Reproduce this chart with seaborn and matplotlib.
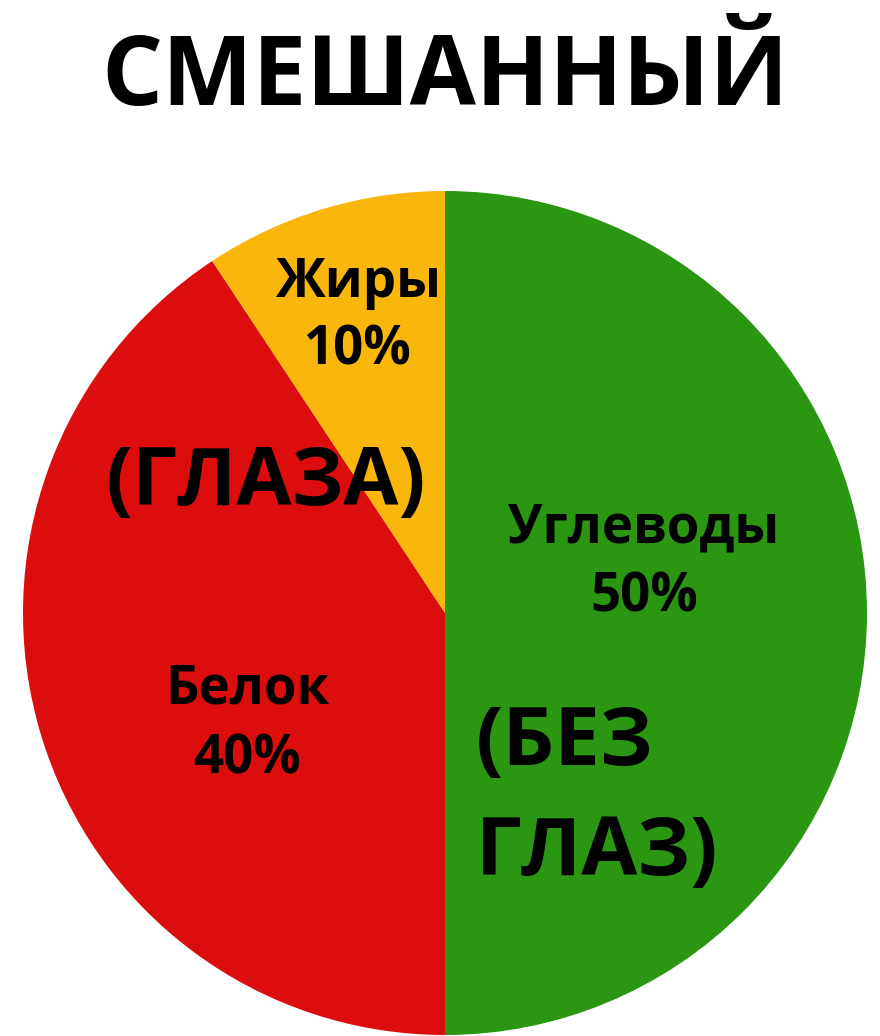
import matplotlib
matplotlib.use("Agg")
from matplotlib import pyplot as plt
import seaborn as sns

# Данные (размеры секторов, подписи — как на ней)
nutrients = ["Углеводы", "Белок", "Жиры"]
shares = [50, 40.7, 9.3]
pct_labels = ["50%", "40%", "10%"]
colors = ["#2b9612", "#db0d0d", "#f9b60b"]
title = "СМЕШАННЫЙ"

sns.set_theme(style="white")
plt.rcParams['font.family'] = ['Open Sans', 'DejaVu Sans']

W, H = 880, 1036
fig = plt.figure(figsize=(W / 100, H / 100), dpi=100)

# Круг: центр (445, 613), радиус 422 px
cx, cy, r = 445, 613, 422
ax = fig.add_axes([(cx - r) / W, (H - cy - r) / H, 2 * r / W, 2 * r / H])
ax.pie(shares, colors=colors, startangle=90, counterclock=False,
       wedgeprops=dict(linewidth=0))
ax.set_xlim(-1, 1)
ax.set_ylim(-1, 1)
ax.set_aspect("equal")
ax.axis("off")


def px(x, y):
    return (x - cx) / r, (cy - y) / r


# Подписи секторов: (x, базовая линия названия, базовая линия процента)
label_pos = {"Углеводы": (644, 542, 612), "Белок": (247, 703, 773), "Жиры": (358, 297, 365)}
for name, pct in zip(nutrients, pct_labels):
    x0, y1, y2 = label_pos[name]
    ax.text(*px(x0, y1), name, ha="center", va="baseline", fontsize=38,
            fontweight="bold", color="black")
    ax.text(*px(x0, y2), pct, ha="center", va="baseline", fontsize=38,
            fontweight="bold", color="black")

ax.text(*px(266, 505), "(ГЛАЗА)", ha="center", va="baseline", fontsize=57.5,
        fontweight="bold", color="black")
ax.text(*px(476, 765), "(БЕЗ", ha="left", va="baseline", fontsize=58.5,
        fontweight="bold", color="black")
ax.text(*px(476, 875), "ГЛАЗ)", ha="left", va="baseline", fontsize=58.5,
        fontweight="bold", color="black")

fig.text(cx / W, 1 - 105 / H, title, ha="center", va="baseline", fontsize=69,
         fontweight="bold", color="black")

fig.savefig("out.png", dpi=100, facecolor="white")
